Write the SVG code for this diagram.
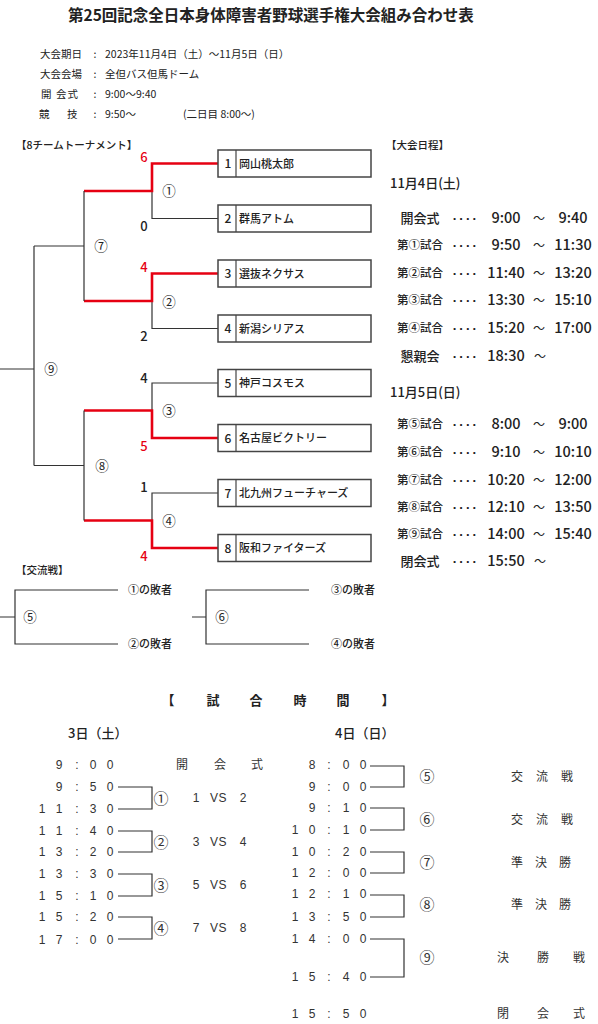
<svg xmlns="http://www.w3.org/2000/svg" width="598" height="1024" viewBox="0 0 598 1024">
<style>
  text { font-family: 'Noto Sans CJK JP', 'Noto Sans', sans-serif; fill: #222; }
  .title { font-size: 15.5px; font-weight: bold; }
  .info { font-size: 10.5px; }
  .head { font-size: 10.5px; font-weight: 500; }
  .team { font-size: 11px; font-weight: 500; }
  .num { font-size: 12px; text-anchor: middle; font-weight: 500; }
  .score { font-size: 13px; text-anchor: middle; font-weight: 500; }
  .red { fill: #e60012; }
  .mlabel { font-size: 13.5px; text-anchor: middle; }
  .day { font-size: 13px; font-weight: 500; }
  .slabel { font-size: 11.5px; text-anchor: middle; font-weight: 500; }
  .slabel2 { font-size: 13px; text-anchor: middle; font-weight: 500; }
  .time { font-size: 14.5px; text-anchor: middle; font-weight: 500; }
  .tilde { font-size: 12px; text-anchor: middle; }
  .dots { font-family: 'Liberation Sans', sans-serif; font-size: 13px; font-weight: bold; text-anchor: middle; letter-spacing: 2.3px; }
  .loser { font-size: 11px; font-weight: 500; }
  .digits { font-family: 'Liberation Sans', 'Noto Sans CJK JP', sans-serif; font-size: 12px; text-anchor: middle; fill: #333; }
  .jp { font-size: 12px; text-anchor: middle; fill: #333; }
  .circ { font-size: 15px; text-anchor: middle; fill: #333; }
  .big { font-size: 13px; font-weight: bold; text-anchor: middle; }
  .box { fill: #fff; stroke: #444; stroke-width: 1.5; }
  .ln { fill: none; stroke: #333; stroke-width: 1.2; }
  .rl { fill: none; stroke: #e60012; stroke-width: 2.6; }
</style>

<g id="title">
  <text class="title" x="68" y="21">第25回記念全日本身体障害者野球選手権大会組み合わせ表</text>
</g>

<g id="info">
  <text class="info" x="40" y="58">大会期日</text>
  <text class="info" x="95" y="58" text-anchor="middle">:</text>
  <text class="info" x="105" y="58">2023年11月4日（土）〜11月5日（日）</text>
  <text class="info" x="40" y="78">大会会場</text>
  <text class="info" x="95" y="78" text-anchor="middle">:</text>
  <text class="info" x="105" y="78">全但バス但馬ドーム</text>
  <text class="info" y="98"><tspan x="41">開</tspan><tspan x="56">会</tspan><tspan x="67.5">式</tspan></text>
  <text class="info" x="95" y="98" text-anchor="middle">:</text>
  <text class="info" x="105" y="98">9:00〜9:40</text>
  <text class="info" y="118"><tspan x="39">競</tspan><tspan x="67">技</tspan></text>
  <text class="info" x="95" y="118" text-anchor="middle">:</text>
  <text class="info" x="105" y="118">9:50〜</text>
  <text class="info" x="183" y="118">(二日目 8:00〜)</text>
</g>

<g id="headings">
  <text class="head" x="16" y="149">【8チームトーナメント】</text>
  <text class="head" x="386" y="149">【大会日程】</text>
</g>

<g id="connectors">
  <path class="ln" d="M152,191 V218.5 H218"/>
  <path class="rl" d="M218,163.5 H152 V191 H84"/>
  <path class="ln" d="M152,301 V328.5 H218"/>
  <path class="rl" d="M218,273.5 H152 V301 H84"/>
  <path class="ln" d="M218,383 H152 V410.5"/>
  <path class="rl" d="M84,410.5 H152 V438 H218"/>
  <path class="ln" d="M218,493 H152 V520.5"/>
  <path class="rl" d="M84,520.5 H152 V548 H218"/>
  <path class="ln" d="M84,191 V301 M84,246 H34"/>
  <path class="ln" d="M84,410.5 V520.5 M84,465.5 H34"/>
  <path class="ln" d="M34,246 V465.5 M0,369 H34"/>
  <path class="ln" d="M118,590 H15 V644 H118 M0,617 H15"/>
  <path class="ln" d="M309,590 H206 V644 H309 M192,617 H206"/>
  <path class="ln" d="M118,787 H152 V809 H118"/>
  <path class="ln" d="M118,831 H152 V852 H118"/>
  <path class="ln" d="M118,874 H152 V896 H118"/>
  <path class="ln" d="M118,917 H152 V939 H118"/>
  <path class="ln" d="M370,766 H404 V787 H370"/>
  <path class="ln" d="M370,808 H404 V830 H370"/>
  <path class="ln" d="M370,852 H404 V873 H370"/>
  <path class="ln" d="M370,895 H404 V917 H370"/>
  <path class="ln" d="M370,939 H404 V977 H370"/>
</g>

<g id="team1"><rect class="box" x="218" y="150" width="153" height="27"/><line x1="236" y1="150" x2="236" y2="177" stroke="#444" stroke-width="1.2"/><text class="num" x="228" y="168">1</text><text class="team" x="239" y="167.5">岡山桃太郎</text></g>
<g id="team2"><rect class="box" x="218" y="205" width="153" height="27"/><line x1="236" y1="205" x2="236" y2="232" stroke="#444" stroke-width="1.2"/><text class="num" x="228" y="223">2</text><text class="team" x="239" y="222.5">群馬アトム</text></g>
<g id="team3"><rect class="box" x="218" y="260" width="153" height="27"/><line x1="236" y1="260" x2="236" y2="287" stroke="#444" stroke-width="1.2"/><text class="num" x="228" y="278">3</text><text class="team" x="239" y="277.5">選抜ネクサス</text></g>
<g id="team4"><rect class="box" x="218" y="315" width="153" height="27"/><line x1="236" y1="315" x2="236" y2="342" stroke="#444" stroke-width="1.2"/><text class="num" x="228" y="333">4</text><text class="team" x="239" y="332.5">新潟シリアス</text></g>
<g id="team5"><rect class="box" x="218" y="369.5" width="153" height="27"/><line x1="236" y1="369.5" x2="236" y2="396.5" stroke="#444" stroke-width="1.2"/><text class="num" x="228" y="387.5">5</text><text class="team" x="239" y="387">神戸コスモス</text></g>
<g id="team6"><rect class="box" x="218" y="424.5" width="153" height="27"/><line x1="236" y1="424.5" x2="236" y2="451.5" stroke="#444" stroke-width="1.2"/><text class="num" x="228" y="442.5">6</text><text class="team" x="239" y="442">名古屋ビクトリー</text></g>
<g id="team7"><rect class="box" x="218" y="479.5" width="153" height="27"/><line x1="236" y1="479.5" x2="236" y2="506.5" stroke="#444" stroke-width="1.2"/><text class="num" x="228" y="497.5">7</text><text class="team" x="239" y="497">北九州フューチャーズ</text></g>
<g id="team8"><rect class="box" x="218" y="534.5" width="153" height="27"/><line x1="236" y1="534.5" x2="236" y2="561.5" stroke="#444" stroke-width="1.2"/><text class="num" x="228" y="552.5">8</text><text class="team" x="239" y="552">阪和ファイターズ</text></g>

<g id="scores">
  <text class="score red" x="144" y="161.5">6</text>
  <text class="score" x="144" y="230.5">0</text>
  <text class="score red" x="144" y="271.5">4</text>
  <text class="score" x="144" y="340.5">2</text>
  <text class="score" x="144" y="382.5">4</text>
  <text class="score red" x="144" y="450.5">5</text>
  <text class="score" x="144" y="491.5">1</text>
  <text class="score red" x="144" y="560.5">4</text>
</g>

<g id="match-labels">
  <text class="mlabel" x="169" y="196">①</text>
  <text class="mlabel" x="169" y="306.5">②</text>
  <text class="mlabel" x="169" y="415.5">③</text>
  <text class="mlabel" x="169" y="525.5">④</text>
  <text class="mlabel" x="101" y="251">⑦</text>
  <text class="mlabel" x="102" y="470.5">⑧</text>
  <text class="mlabel" x="51" y="374">⑨</text>
</g>

<g id="schedule">
  <text class="day" x="390" y="187.5">11月4日(土)</text>
  <text class="slabel2" x="420" y="222.5">開会式</text>
  <text class="dots" x="466" y="222.5">····</text>
  <text class="time" x="506" y="223">9:00</text><text class="tilde" x="539" y="222.5">〜</text><text class="time" x="573" y="223">9:40</text>
  <text class="slabel" x="420" y="249">第①試合</text>
  <text class="dots" x="466" y="249.5">····</text>
  <text class="time" x="506" y="250">9:50</text><text class="tilde" x="539" y="249.5">〜</text><text class="time" x="573" y="250">11:30</text>
  <text class="slabel" x="420" y="277">第②試合</text>
  <text class="dots" x="466" y="277.5">····</text>
  <text class="time" x="506" y="278">11:40</text><text class="tilde" x="539" y="277.5">〜</text><text class="time" x="573" y="278">13:20</text>
  <text class="slabel" x="420" y="304">第③試合</text>
  <text class="dots" x="466" y="304.5">····</text>
  <text class="time" x="506" y="305">13:30</text><text class="tilde" x="539" y="304.5">〜</text><text class="time" x="573" y="305">15:10</text>
  <text class="slabel" x="420" y="332">第④試合</text>
  <text class="dots" x="466" y="332.5">····</text>
  <text class="time" x="506" y="333">15:20</text><text class="tilde" x="539" y="332.5">〜</text><text class="time" x="573" y="333">17:00</text>
  <text class="slabel2" x="420" y="360.5">懇親会</text>
  <text class="dots" x="466" y="360.5">····</text>
  <text class="time" x="506" y="361">18:30</text><text class="tilde" x="540" y="360.5">〜</text>

  <text class="day" x="390" y="396.5">11月5日(日)</text>
  <text class="slabel" x="420" y="428">第⑤試合</text>
  <text class="dots" x="466" y="428.5">····</text>
  <text class="time" x="506" y="429">8:00</text><text class="tilde" x="539" y="428.5">〜</text><text class="time" x="573" y="429">9:00</text>
  <text class="slabel" x="420" y="456">第⑥試合</text>
  <text class="dots" x="466" y="456.5">····</text>
  <text class="time" x="506" y="457">9:10</text><text class="tilde" x="539" y="456.5">〜</text><text class="time" x="573" y="457">10:10</text>
  <text class="slabel" x="420" y="484">第⑦試合</text>
  <text class="dots" x="466" y="484.5">····</text>
  <text class="time" x="506" y="485">10:20</text><text class="tilde" x="539" y="484.5">〜</text><text class="time" x="573" y="485">12:00</text>
  <text class="slabel" x="420" y="511">第⑧試合</text>
  <text class="dots" x="466" y="511.5">····</text>
  <text class="time" x="506" y="512">12:10</text><text class="tilde" x="539" y="511.5">〜</text><text class="time" x="573" y="512">13:50</text>
  <text class="slabel" x="420" y="538">第⑨試合</text>
  <text class="dots" x="466" y="538.5">····</text>
  <text class="time" x="506" y="539">14:00</text><text class="tilde" x="539" y="538.5">〜</text><text class="time" x="573" y="539">15:40</text>
  <text class="slabel2" x="420" y="565.5">閉会式</text>
  <text class="dots" x="466" y="565.5">····</text>
  <text class="time" x="506" y="566">15:50</text><text class="tilde" x="540" y="565.5">〜</text>
</g>

<g id="exchange">
  <text class="head" x="16" y="574">【交流戦】</text>
  <text class="mlabel" x="30" y="622">⑤</text>
  <text class="loser" x="128" y="594">①の敗者</text>
  <text class="loser" x="128" y="648">②の敗者</text>
  <text class="mlabel" x="222" y="622">⑥</text>
  <text class="loser" x="331" y="594">③の敗者</text>
  <text class="loser" x="331" y="648">④の敗者</text>
</g>

<g id="timetable-head">
  <text class="big" x="168 213 256 300 343 388" y="704.5">【試合時間】</text>
  <text class="day" x="68" y="737.5">3日（土）</text>
  <text class="day" x="335" y="737.5">4日（日）</text>
</g>

<g id="timetable-day1">
  <text class="digits" x="59 77 93 110" y="769.3">9:00</text>
  <text class="jp" x="182 220 257" y="769.3">開会式</text>
  <text class="digits" x="59 77 93 110" y="791.3">9:50</text>
  <text class="digits" x="42 59 77 93 110" y="813.3">11:30</text>
  <text class="digits" x="42 59 77 93 110" y="835.3">11:40</text>
  <text class="digits" x="42 59 77 93 110" y="856.3">13:20</text>
  <text class="digits" x="42 59 77 93 110" y="878.3">13:30</text>
  <text class="digits" x="42 59 77 93 110" y="900.3">15:10</text>
  <text class="digits" x="42 59 77 93 110" y="921.3">15:20</text>
  <text class="digits" x="42 59 77 93 110" y="944.3">17:00</text>
  <text class="circ" x="161" y="803.5">①</text>
  <text class="circ" x="161" y="847.5">②</text>
  <text class="circ" x="161" y="890.5">③</text>
  <text class="circ" x="161" y="933.5">④</text>
  <text class="digits" x="196 214 222.5 243" y="802.3">1VS2</text>
  <text class="digits" x="196 214 222.5 243" y="846.3">3VS4</text>
  <text class="digits" x="196 214 222.5 243" y="889.3">5VS6</text>
  <text class="digits" x="196 214 222.5 243" y="932.3">7VS8</text>
</g>

<g id="timetable-day2">
  <text class="digits" x="312 329 346 363" y="769.3">8:00</text>
  <text class="digits" x="312 329 346 363" y="791.3">9:00</text>
  <text class="digits" x="312 329 346 363" y="812.3">9:10</text>
  <text class="digits" x="295 312 329 346 363" y="834.3">10:10</text>
  <text class="digits" x="295 312 329 346 363" y="856.3">10:20</text>
  <text class="digits" x="295 312 329 346 363" y="877.3">12:00</text>
  <text class="digits" x="295 312 329 346 363" y="898.3">12:10</text>
  <text class="digits" x="295 312 329 346 363" y="921.3">13:50</text>
  <text class="digits" x="295 312 329 346 363" y="943.3">14:00</text>
  <text class="digits" x="295 312 329 346 363" y="981.3">15:40</text>
  <text class="digits" x="295 312 329 346 363" y="1018.3">15:50</text>
  <text class="circ" x="427" y="782">⑤</text>
  <text class="circ" x="427" y="825">⑥</text>
  <text class="circ" x="427" y="868">⑦</text>
  <text class="circ" x="427" y="910">⑧</text>
  <text class="circ" x="427" y="963">⑨</text>
  <text class="jp" x="517 542 567" y="781.3">交流戦</text>
  <text class="jp" x="517 542 567" y="824.3">交流戦</text>
  <text class="jp" x="517 541 565" y="867.3">準決勝</text>
  <text class="jp" x="517 541 565" y="909.3">準決勝</text>
  <text class="jp" x="503 543 579" y="962.3">決勝戦</text>
  <text class="jp" x="503 543 579" y="1018.3">閉会式</text>
</g>
</svg>
